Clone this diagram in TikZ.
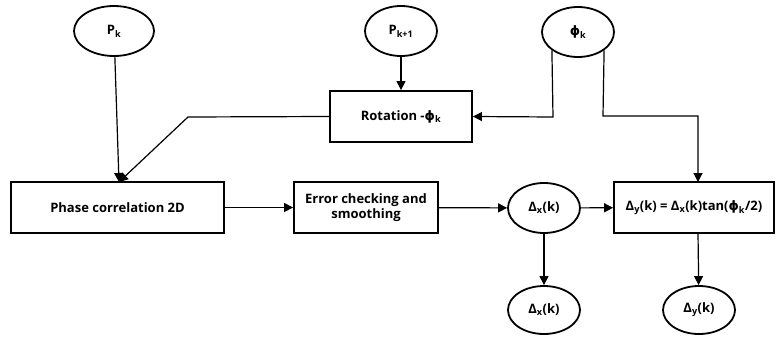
\documentclass[tikz,border=0pt]{standalone}
\usepackage{fontspec}
\setmainfont{Open Sans}
\newfontfamily\symfont{DejaVu Sans}
\usetikzlibrary{arrows.meta,shapes.geometric}
\newcommand{\sbs}[1]{\textsubscript{#1}}
\newcommand{\myphi}{{\symfont ϕ}}
\begin{document}
\begin{tikzpicture}[x=1pt,y=-1pt,
  every node/.style={font=\bfseries\fontsize{13}{15.5}\selectfont, inner sep=0pt},
  ell/.style={draw, ellipse, line width=1.8pt, minimum width=#1, minimum height=50pt},
  ell/.default=72pt,
  box/.style={draw, rectangle, line width=1.8pt, align=center},
  conn/.style={line width=1.2pt, -{Triangle[length=9pt,width=9pt]}}]
\useasboundingbox (0,0) rectangle (776,337);
\node[ell=80pt] (pk) at (114,31) {P\sbs{k}};
\node[ell] (pk1) at (401,31) {P\sbs{k+1}};
\node[ell] (phik) at (578,32) {\myphi\sbs{k}};
\node[box, minimum width=142pt, minimum height=51pt] (rot) at (401,116.5) {Rotation -\myphi\sbs{k}};
\node[box, minimum width=213pt, minimum height=51pt] (pc) at (117.5,207.5) {Phase correlation 2D};
\node[box, minimum width=144pt, minimum height=51pt] (err) at (366,207.5) {Error checking and\\smoothing};
\node[ell] (dx) at (544,208) {Δ\sbs{x}(k)};
\node[box, minimum width=160pt, minimum height=51pt] (dy) at (694,207.5) {Δ\sbs{y}(k) = Δ\sbs{x}(k)tan(\myphi\sbs{k}/2)};
\node[ell, minimum height=48pt] (dxo) at (544,310) {Δ\sbs{x}(k)};
\node[ell, minimum height=48pt] (dyo) at (699,310) {Δ\sbs{y}(k)};
\coordinate (bend1) at (188,117);
\coordinate (pcin) at (119,182);
\coordinate (bend2) at (553,117);
\coordinate (bend3) at (603,116);
\coordinate (bend4) at (698,116);
\coordinate (dyin) at (698,182);
\coordinate (dyout) at (698,233);
\draw[conn] (pk) -- (pcin);
\draw[conn] (rot.west) -- (bend1) -- (pcin);
\draw[conn] (pk1) -- (rot);
\draw[conn] (phik.south west) -- (bend2) -- (rot.east);
\draw[conn] (phik.south east) -- (bend3) -- (bend4) -- (dyin);
\draw[conn] (pc) -- (err);
\draw[conn] (err) -- (dx);
\draw[conn] (dx) -- (dy);
\draw[conn] (dx) -- (dxo);
\draw[conn] (dyout) -- (dyo);
\end{tikzpicture}
\end{document}
